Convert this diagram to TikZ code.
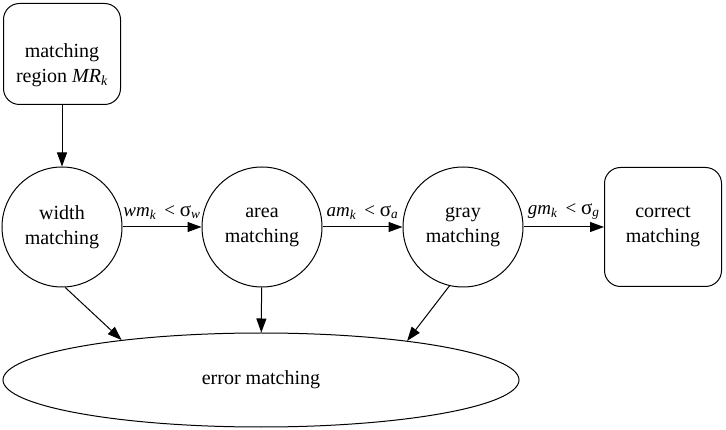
\documentclass[tikz,border=0pt]{standalone}
\usepackage{fontspec}
\setmainfont{Liberation Serif}
\usetikzlibrary{arrows.meta,shapes.geometric}
\begin{document}
\begin{tikzpicture}[x=1pt,y=-1pt,
  every node/.style={font=\fontsize{20}{25}\selectfont, align=center},
  circnode/.style={draw, circle, line width=1pt, minimum size=120pt, inner sep=0pt},
  boxnode/.style={draw, rounded corners=16pt, line width=1pt, minimum width=117pt, minimum height=101pt, inner sep=0pt},
  ellnode/.style={draw, ellipse, line width=1pt, minimum width=516pt, minimum height=94pt, inner sep=0pt},
  edge/.style={draw, line width=1pt, -{Triangle[length=14pt,width=10pt]}},
  lbl/.style={font=\fontsize{19}{22}\selectfont, inner sep=0pt, above, yshift=7pt}
]
\useasboundingbox (0,0) rectangle (726,430);
\node[boxnode] (mr) at (62,54) {\raisebox{-11pt}[\height][\depth]{\begin{tabular}{@{}c@{}}matching\\region \textit{MR}\textsubscript{\textit{k}}\end{tabular}}};
\node[circnode] (wm) at (62,227) {width\\matching};
\node[circnode] (am) at (262,227) {area\\matching};
\node[circnode] (gm) at (463,227) {gray\\matching};
\node[boxnode, minimum height=119pt] (cm) at (663,227) {correct\\matching};
\node[ellnode] (em) at (261,380) {error matching};

\draw[edge] (mr) -- (wm);
\draw[edge] (wm) -- node[lbl] {\textit{wm}\textsubscript{\textit{k}} \,< {\fontsize{21}{22}\selectfont σ}\textsubscript{\textit{w}}} (am);
\draw[edge] (am) -- node[lbl] {\textit{am}\textsubscript{\textit{k}} \,< {\fontsize{21}{22}\selectfont σ}\textsubscript{\textit{a}}} (gm);
\draw[edge] (gm) -- node[lbl] {\textit{gm}\textsubscript{\textit{k}} \,< {\fontsize{21}{22}\selectfont σ}\textsubscript{\textit{g}}} (cm);
\draw[edge] (wm.273) -- (em.164.5);
\draw[edge] (am) -- (em);
\draw[edge] (gm.257) -- (em.15);
\end{tikzpicture}
\end{document}
